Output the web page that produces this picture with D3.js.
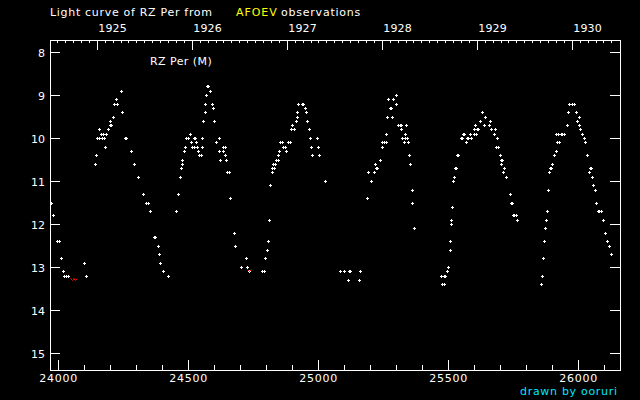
<!DOCTYPE html>
<html><head><meta charset="utf-8">
<script src="https://cdn.jsdelivr.net/npm/d3@7"></script>
<style>html,body{margin:0;padding:0;background:#000;}svg{display:block;}text{font-family:"DejaVu Sans",sans-serif;font-size:11px;}</style>
</head><body>
<script>
// Julian Day - 2400000 of each observation
const jd = [23973,23980,23995,24003,24011,24019,24022,24030,24038,24100,24107,
24142,24146,24149,24157,24158,24170,24177,24168,24174,24185,24181,24192,24200,24199,24206,24212,24216,24227,24223,24242,24246,24258,24264,24281,24292,24308,24327,24339,24346,24354,24369,24374,24384,24388,24392,24403,24423,
24454,24462,24469,24473,24477,24477,24485,24489,24494,24501,24508,24512,24518,24524,24522,24527,24530,24534,24538,24543,24549,24554,24554,24557,24565,24565,24569,24573,24579,24585,24592,24596,24600,24608,24619,24619,24623,24635,24637,24643,24643,24647,24650,24657,24661,24677,24680,24704,24723,24727,24735,24787,24793,24796,24803,24807,24811,24815,
24823,24823,24830,24827,24834,24839,24845,24846,24850,24855,24861,24866,24872,24877,24886,24892,24896,24908,24900,24916,24920,24920,24923,24938,24944,24950,24953,24957,24965,24969,24973,24977,24996,25000,25004,25027,
25084,25100,25119,25125,25162,25115,25158,
25189,25193,25203,25215,25219,25224,25229,25238,25246,25247,25253,25261,25261,25265,25269,25276,25282,25285,25289,25300,25300,25309,25315,25320,25320,25323,25331,25335,25335,25339,25343,25346,25350,25353,25361,25361,25369,
25474,25485,25491,25479,25485,25496,25500,25507,25507,25511,25511,25515,25519,25523,25526,25532,25535,25541,25550,25556,25557,25564,25569,25572,25578,25585,25591,25600,25600,25607,25612,25618,25604,25623,25630,25638,25642,25657,25661,25665,25677,25681,25688,25685,25692,25700,25703,25710,25704,25716,25712,25723,25739,25742,25748,25750,25756,25761,25765,
25858,25862,25866,25869,25873,25877,25881,25885,25888,25892,25898,25900,25907,25915,25919,25927,25918,25924,25934,25940,25946,25958,25961,25968,25976,25984,25992,25996,26004,26004,26008,26016,26023,26027,26034,26042,26045,26050,26053,26057,26065,26069,26078,26083,26088,26096,26104,26111,26119,26127];
// visual magnitude of each observation
const mag = [11.5,11.8,12.4,12.4,12.8,13.1,13.2,13.2,13.2,12.9,13.2,
10.6,10.4,10.0,10.0,9.8,10.0,10.0,9.9,9.9,9.9,10.2,9.8,9.6,9.7,9.7,9.5,9.2,9.2,9.1,8.9,9.4,10.0,10.0,10.3,10.6,10.9,11.3,11.5,11.5,11.7,12.3,12.3,12.5,12.7,12.9,13.1,13.2,
11.7,11.3,10.9,10.7,10.6,10.5,10.3,10.2,10.0,10.0,9.9,10.1,10.2,10.2,10.0,10.0,10.1,10.2,10.3,10.4,10.4,10.0,10.2,9.6,9.4,9.2,9.0,8.8,8.8,8.9,9.2,9.3,9.6,10.1,10.0,10.3,10.5,10.3,10.2,10.2,10.4,10.5,10.8,10.8,11.4,12.2,12.5,13.0,12.8,13.0,13.1,13.1,13.1,12.8,12.6,12.4,11.9,11.1,
10.8,10.7,10.7,10.6,10.6,10.5,10.5,10.4,10.3,10.1,10.1,10.2,10.2,10.3,10.1,10.1,9.8,9.8,9.7,9.6,9.5,9.4,9.2,9.2,9.2,9.3,9.4,9.6,9.8,10.0,10.2,10.4,10.0,10.2,10.4,11.0,
13.1,13.1,13.1,13.1,13.1,13.3,13.3,
11.4,10.8,11.0,10.8,10.6,10.7,10.7,10.5,10.2,10.1,10.1,10.1,9.9,9.5,9.1,9.3,9.3,9.5,9.1,9.0,9.2,9.7,9.7,9.7,9.8,10.0,10.1,9.9,10.0,9.7,10.0,10.1,10.4,10.6,11.2,11.5,12.1,
13.2,13.2,13.2,13.4,13.4,13.1,13.0,12.6,12.4,12.0,11.9,11.6,11.0,10.9,10.7,10.7,10.4,10.4,10.0,10.0,9.9,9.9,10.1,10.0,10.0,9.9,10.0,9.9,9.8,9.9,9.8,9.8,9.7,9.6,9.4,9.7,9.5,9.7,9.6,9.8,9.9,9.8,10.0,10.2,10.2,10.4,10.5,10.5,10.6,10.7,10.8,10.9,11.3,11.5,11.5,11.8,11.8,11.8,11.9,
13.4,13.2,12.8,12.4,12.1,11.9,11.7,11.2,10.8,10.7,10.7,10.6,10.4,10.3,10.1,10.1,9.9,9.9,9.9,9.9,9.9,9.7,9.4,9.2,9.2,9.2,9.4,9.6,9.5,9.7,9.8,9.9,10.0,10.1,10.4,10.8,10.7,10.7,10.9,11.1,11.2,11.5,11.7,11.7,11.7,11.9,12.2,12.4,12.5,12.7];
// "fainter than" observations (red)
const limJd = [24054,24068,24736];
const limMag = [13.3,13.3,13.1];
const magTicks = [8,9,10,11,12,13,14,15];
const jdMajor = [24000,24500,25000,25500,26000];
const jdMinorStep = 100;
const years = [1925,1926,1927,1928,1929,1930];

const W=640,H=400, L=50,R=620,T=40,B=370;
const svg=d3.select("body").append("svg").attr("width",W).attr("height",H).style("background","#000");
const x=d3.scaleLinear().domain([24000,26000]).range([58.3,578.3]);
const y=d3.scaleLinear().domain([8,15]).range([52.5,353.5]);
const yr=d3.scaleLinear().domain([1925,1930]).range([97.3,572.3]);
const g=svg.append("g").attr("shape-rendering","crispEdges");
// frame
g.append("rect").attr("x",L+0.5).attr("y",T+0.5).attr("width",R-L).attr("height",B-T)
 .attr("fill","none").attr("stroke","#fff");
// y ticks
magTicks.forEach(m=>{
  const yy=Math.round(y(m)-0.5)+0.5;
  g.append("line").attr("x1",L).attr("x2",L+10).attr("y1",yy).attr("y2",yy).attr("stroke","#fff");
  g.append("line").attr("x1",R-10).attr("x2",R).attr("y1",yy).attr("y2",yy).attr("stroke","#fff");
  svg.append("text").attr("x",45).attr("y",yy+4).attr("text-anchor","end").attr("fill","#fff").text(m);
});
// bottom JD ticks
const d0=x.invert(L), d1=x.invert(R);
for(let v=Math.ceil(d0/jdMinorStep)*jdMinorStep; v<=d1; v+=jdMinorStep){
  const xx=Math.round(x(v)-0.5)+0.5;
  const major=jdMajor.includes(v);
  g.append("line").attr("x1",xx).attr("x2",xx).attr("y1",B).attr("y2",B-(major?10:5)).attr("stroke","#fff");
}
jdMajor.forEach(v=>{
  svg.append("text").attr("x",x(v)).attr("y",382).attr("text-anchor","middle").attr("fill","#fff")
   .attr("textLength",38).attr("lengthAdjust","spacing").text(v);
});
// top year ticks (monthly)
for(let k=Math.ceil(yr.invert(L)*12); k/12<=yr.invert(R-1); k++){
  const xx=Math.round(yr(k/12)-0.5)+0.5;
  const major=(k%12===0);
  g.append("line").attr("x1",xx).attr("x2",xx).attr("y1",T).attr("y2",T+(major?10:3)).attr("stroke","#fff");
}
years.forEach(v=>{
  svg.append("text").attr("x",yr(v)+1).attr("y",32).attr("fill","#fff")
   .attr("textLength",28.4).attr("lengthAdjust","spacing").text(v);
});
// observations
const pts=svg.append("g").attr("shape-rendering","crispEdges").attr("fill","#fff");
jd.forEach((d,i)=>{
  const px=Math.floor(x(d)), py=Math.floor(y(mag[i]));
  pts.append("rect").attr("x",px-1).attr("y",py).attr("width",3).attr("height",1);
  pts.append("rect").attr("x",px).attr("y",py-1).attr("width",1).attr("height",3);
});
// limits (red v)
limJd.forEach((d,i)=>{
  const px=Math.floor(x(d))+0.5, py=Math.floor(y(limMag[i]))+0.5;
  svg.append("path").attr("d",`M${px-2},${py-2}L${px},${py}L${px+2},${py-2}`)
   .attr("fill","none").attr("stroke","#ff0000").attr("stroke-width",1);
});
// texts
svg.append("text").attr("x",50).attr("y",16).attr("fill","#fff").attr("textLength",162).attr("lengthAdjust","spacing").text("Light curve of RZ Per from");
svg.append("text").attr("x",236).attr("y",16).attr("fill","#ffff00").attr("textLength",40.7).attr("lengthAdjust","spacing").text("AFOEV");
svg.append("text").attr("x",281).attr("y",16).attr("fill","#fff").attr("textLength",79.3).attr("lengthAdjust","spacing").text("observations");
svg.append("text").attr("x",150).attr("y",64.5).attr("fill","#fff").attr("textLength",61.7).attr("lengthAdjust","spacing").text("RZ Per (M)");
svg.append("text").attr("x",520).attr("y",395).attr("fill","#00e6ff").attr("textLength",97).attr("lengthAdjust","spacing").text("drawn by ooruri");
</script>
</body></html>
